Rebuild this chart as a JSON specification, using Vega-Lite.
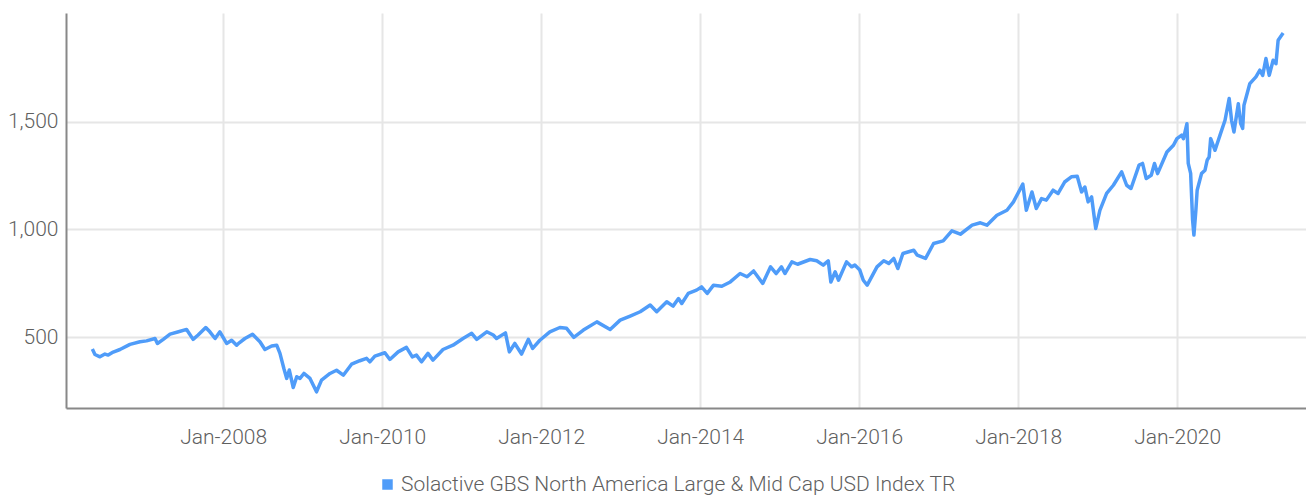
{
  "$schema": "https://vega.github.io/schema/vega-lite/v6.json",
  "autosize": "none",
  "width": 1240,
  "height": 395,
  "padding": {"left": 66, "top": 13, "right": 0, "bottom": 88},
  "background": "white",
  "config": {
    "view": {"stroke": null},
    "font": "Roboto",
    "axis": {"labelFont": "Roboto", "labelFontWeight": 300, "labelColor": "#5f5f5f", "labelFontSize": 21}
  },
  "data": {
    "values": [
      {"date": "2006-05-10", "value": 446},
      {"date": "2006-05-22", "value": 421},
      {"date": "2006-06-14", "value": 410},
      {"date": "2006-07-07", "value": 423},
      {"date": "2006-07-22", "value": 418},
      {"date": "2006-08-14", "value": 432},
      {"date": "2006-09-14", "value": 444},
      {"date": "2006-10-30", "value": 468},
      {"date": "2006-12-15", "value": 480},
      {"date": "2007-01-14", "value": 484},
      {"date": "2007-02-22", "value": 495},
      {"date": "2007-03-05", "value": 472},
      {"date": "2007-04-01", "value": 491},
      {"date": "2007-05-02", "value": 515},
      {"date": "2007-06-10", "value": 526},
      {"date": "2007-07-17", "value": 537},
      {"date": "2007-08-16", "value": 491},
      {"date": "2007-09-08", "value": 511},
      {"date": "2007-10-13", "value": 546},
      {"date": "2007-11-01", "value": 526},
      {"date": "2007-11-25", "value": 495},
      {"date": "2007-12-17", "value": 526},
      {"date": "2008-01-17", "value": 472},
      {"date": "2008-02-09", "value": 487},
      {"date": "2008-03-03", "value": 464},
      {"date": "2008-03-15", "value": 475},
      {"date": "2008-04-10", "value": 495},
      {"date": "2008-05-15", "value": 515},
      {"date": "2008-06-18", "value": 480},
      {"date": "2008-07-11", "value": 444},
      {"date": "2008-08-11", "value": 460},
      {"date": "2008-09-03", "value": 464},
      {"date": "2008-09-18", "value": 426},
      {"date": "2008-10-06", "value": 356},
      {"date": "2008-10-19", "value": 310},
      {"date": "2008-10-31", "value": 349},
      {"date": "2008-11-18", "value": 268},
      {"date": "2008-12-04", "value": 318},
      {"date": "2008-12-19", "value": 310},
      {"date": "2009-01-06", "value": 333},
      {"date": "2009-02-03", "value": 310},
      {"date": "2009-03-05", "value": 248},
      {"date": "2009-03-28", "value": 302},
      {"date": "2009-05-06", "value": 333},
      {"date": "2009-06-05", "value": 348},
      {"date": "2009-07-06", "value": 325},
      {"date": "2009-08-13", "value": 376},
      {"date": "2009-09-20", "value": 392},
      {"date": "2009-10-21", "value": 403},
      {"date": "2009-11-05", "value": 387},
      {"date": "2009-11-28", "value": 413},
      {"date": "2010-01-13", "value": 429},
      {"date": "2010-02-05", "value": 398},
      {"date": "2010-03-15", "value": 433},
      {"date": "2010-04-22", "value": 454},
      {"date": "2010-05-19", "value": 410},
      {"date": "2010-06-07", "value": 418},
      {"date": "2010-06-30", "value": 387},
      {"date": "2010-07-30", "value": 426},
      {"date": "2010-08-22", "value": 395},
      {"date": "2010-10-07", "value": 444},
      {"date": "2010-11-22", "value": 464},
      {"date": "2011-01-07", "value": 495},
      {"date": "2011-02-16", "value": 519},
      {"date": "2011-03-11", "value": 491},
      {"date": "2011-04-26", "value": 526},
      {"date": "2011-05-26", "value": 511},
      {"date": "2011-06-10", "value": 495},
      {"date": "2011-07-21", "value": 521},
      {"date": "2011-08-08", "value": 433},
      {"date": "2011-09-02", "value": 472},
      {"date": "2011-10-03", "value": 423},
      {"date": "2011-11-03", "value": 491},
      {"date": "2011-11-23", "value": 449},
      {"date": "2011-12-26", "value": 487},
      {"date": "2012-02-10", "value": 526},
      {"date": "2012-03-27", "value": 546},
      {"date": "2012-04-27", "value": 542},
      {"date": "2012-05-30", "value": 500},
      {"date": "2012-07-13", "value": 534},
      {"date": "2012-09-13", "value": 572},
      {"date": "2012-11-13", "value": 537},
      {"date": "2012-12-29", "value": 580},
      {"date": "2013-02-13", "value": 599},
      {"date": "2013-03-31", "value": 619},
      {"date": "2013-05-16", "value": 650},
      {"date": "2013-06-15", "value": 619},
      {"date": "2013-07-31", "value": 665},
      {"date": "2013-08-29", "value": 645},
      {"date": "2013-09-23", "value": 680},
      {"date": "2013-10-08", "value": 657},
      {"date": "2013-11-07", "value": 704},
      {"date": "2013-12-15", "value": 719},
      {"date": "2014-01-07", "value": 734},
      {"date": "2014-02-02", "value": 704},
      {"date": "2014-03-03", "value": 742},
      {"date": "2014-04-10", "value": 737},
      {"date": "2014-05-19", "value": 757},
      {"date": "2014-07-03", "value": 796},
      {"date": "2014-08-04", "value": 781},
      {"date": "2014-09-03", "value": 808},
      {"date": "2014-10-15", "value": 750},
      {"date": "2014-11-20", "value": 827},
      {"date": "2014-12-16", "value": 796},
      {"date": "2015-01-09", "value": 827},
      {"date": "2015-01-25", "value": 796},
      {"date": "2015-02-26", "value": 850},
      {"date": "2015-03-24", "value": 839},
      {"date": "2015-05-21", "value": 861},
      {"date": "2015-06-20", "value": 855},
      {"date": "2015-07-20", "value": 835},
      {"date": "2015-08-12", "value": 855},
      {"date": "2015-08-24", "value": 757},
      {"date": "2015-09-13", "value": 804},
      {"date": "2015-09-28", "value": 765},
      {"date": "2015-11-04", "value": 850},
      {"date": "2015-11-27", "value": 827},
      {"date": "2015-12-12", "value": 835},
      {"date": "2016-01-04", "value": 812},
      {"date": "2016-01-20", "value": 765},
      {"date": "2016-02-07", "value": 742},
      {"date": "2016-03-23", "value": 827},
      {"date": "2016-04-23", "value": 855},
      {"date": "2016-05-16", "value": 843},
      {"date": "2016-06-08", "value": 866},
      {"date": "2016-06-27", "value": 819},
      {"date": "2016-07-20", "value": 889},
      {"date": "2016-09-08", "value": 904},
      {"date": "2016-09-24", "value": 881},
      {"date": "2016-11-01", "value": 866},
      {"date": "2016-12-08", "value": 935},
      {"date": "2017-01-21", "value": 947},
      {"date": "2017-03-02", "value": 994},
      {"date": "2017-04-10", "value": 978},
      {"date": "2017-06-03", "value": 1020},
      {"date": "2017-07-11", "value": 1031},
      {"date": "2017-08-10", "value": 1020},
      {"date": "2017-09-25", "value": 1066},
      {"date": "2017-11-10", "value": 1089},
      {"date": "2017-12-10", "value": 1128},
      {"date": "2018-01-22", "value": 1210},
      {"date": "2018-02-07", "value": 1089},
      {"date": "2018-03-05", "value": 1174},
      {"date": "2018-03-25", "value": 1097},
      {"date": "2018-04-18", "value": 1143},
      {"date": "2018-05-10", "value": 1136},
      {"date": "2018-06-10", "value": 1182},
      {"date": "2018-07-03", "value": 1167},
      {"date": "2018-08-02", "value": 1220},
      {"date": "2018-09-02", "value": 1244},
      {"date": "2018-09-29", "value": 1247},
      {"date": "2018-10-19", "value": 1174},
      {"date": "2018-11-03", "value": 1197},
      {"date": "2018-11-18", "value": 1128},
      {"date": "2018-12-04", "value": 1151},
      {"date": "2018-12-23", "value": 1005},
      {"date": "2019-01-11", "value": 1089},
      {"date": "2019-02-11", "value": 1167},
      {"date": "2019-03-14", "value": 1205},
      {"date": "2019-04-21", "value": 1267},
      {"date": "2019-05-14", "value": 1205},
      {"date": "2019-06-03", "value": 1190},
      {"date": "2019-07-10", "value": 1298},
      {"date": "2019-07-26", "value": 1306},
      {"date": "2019-08-12", "value": 1236},
      {"date": "2019-09-04", "value": 1251},
      {"date": "2019-09-19", "value": 1306},
      {"date": "2019-10-03", "value": 1259},
      {"date": "2019-11-15", "value": 1359},
      {"date": "2019-12-15", "value": 1390},
      {"date": "2019-12-31", "value": 1421},
      {"date": "2020-01-22", "value": 1437},
      {"date": "2020-01-30", "value": 1421},
      {"date": "2020-02-15", "value": 1490},
      {"date": "2020-02-21", "value": 1306},
      {"date": "2020-03-03", "value": 1260},
      {"date": "2020-03-12", "value": 1043},
      {"date": "2020-03-18", "value": 974},
      {"date": "2020-03-27", "value": 1089},
      {"date": "2020-04-02", "value": 1182},
      {"date": "2020-04-22", "value": 1259},
      {"date": "2020-05-08", "value": 1275},
      {"date": "2020-05-18", "value": 1321},
      {"date": "2020-05-27", "value": 1336},
      {"date": "2020-06-03", "value": 1421},
      {"date": "2020-06-23", "value": 1367},
      {"date": "2020-07-16", "value": 1437},
      {"date": "2020-08-08", "value": 1506},
      {"date": "2020-08-27", "value": 1607},
      {"date": "2020-09-07", "value": 1506},
      {"date": "2020-09-18", "value": 1452},
      {"date": "2020-10-08", "value": 1583},
      {"date": "2020-10-19", "value": 1491},
      {"date": "2020-10-28", "value": 1468},
      {"date": "2020-11-03", "value": 1576},
      {"date": "2020-11-30", "value": 1676},
      {"date": "2020-12-28", "value": 1707},
      {"date": "2021-01-15", "value": 1738},
      {"date": "2021-01-28", "value": 1714},
      {"date": "2021-02-12", "value": 1792},
      {"date": "2021-02-27", "value": 1714},
      {"date": "2021-03-17", "value": 1784},
      {"date": "2021-03-30", "value": 1768},
      {"date": "2021-04-09", "value": 1877},
      {"date": "2021-05-02", "value": 1910}
    ]
  },
  "mark": {"type": "line", "strokeWidth": 3.5, "strokeJoin": "round"},
  "encoding": {
    "x": {
      "field": "date",
      "type": "temporal",
      "scale": {
        "type": "utc",
        "domain": [
          {"year": 2006, "month": 1, "date": 9, "utc": true},
          {"year": 2021, "month": 8, "date": 15, "utc": true}
        ]
      },
      "axis": {
        "title": null,
        "values": [
          {"year": 2008, "month": 1, "date": 1, "utc": true},
          {"year": 2010, "month": 1, "date": 1, "utc": true},
          {"year": 2012, "month": 1, "date": 1, "utc": true},
          {"year": 2014, "month": 1, "date": 1, "utc": true},
          {"year": 2016, "month": 1, "date": 1, "utc": true},
          {"year": 2018, "month": 1, "date": 1, "utc": true},
          {"year": 2020, "month": 1, "date": 1, "utc": true}
        ],
        "format": "%b-%Y",
        "ticks": false,
        "labelPadding": 18,
        "domainColor": "#888888",
        "domainWidth": 2,
        "gridColor": "#e6e6e6",
        "gridWidth": 2,
        "labelFlush": false
      }
    },
    "y": {
      "field": "value",
      "type": "quantitative",
      "scale": {"domain": [173, 2003], "nice": false, "zero": false},
      "axis": {
        "title": null,
        "values": [500, 1000, 1500],
        "format": ",.0f",
        "ticks": false,
        "labelPadding": 8,
        "domainColor": "#888888",
        "domainWidth": 2,
        "gridColor": "#e6e6e6",
        "gridWidth": 2
      }
    },
    "color": {
      "datum": "Solactive GBS North America Large & Mid Cap USD Index TR",
      "type": "nominal",
      "scale": {"range": ["#4f9cf9"]},
      "legend": {
        "title": null,
        "orient": "none",
        "legendX": 311,
        "legendY": 461,
        "symbolType": "square",
        "symbolSize": 110,
        "symbolFillColor": "#4f9cf9",
        "symbolStrokeColor": "#4f9cf9",
        "symbolStrokeWidth": 0,
        "labelFont": "Roboto",
        "labelFontWeight": 300,
        "labelFontSize": 21,
        "labelColor": "#5f5f5f",
        "labelLimit": 1000,
        "labelOffset": 3,
        "padding": 0
      }
    }
  }
}
